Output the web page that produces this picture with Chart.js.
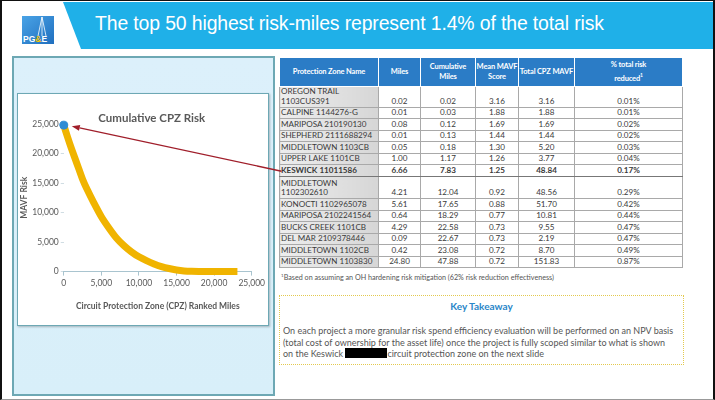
<!DOCTYPE html>
<html>
<head>
<meta charset="utf-8">
<script src="https://cdn.jsdelivr.net/npm/chart.js@4.4.1/dist/chart.umd.min.js"></script>
<style>
  html, body { margin: 0; padding: 0; background: #fff; }
  #slide {
    position: relative; width: 715px; height: 400px; overflow: hidden;
    box-sizing: border-box; background: #fff;
    border-left: 2px solid #111; border-right: 2px solid #111;
    border-top: 1px solid #111; border-bottom: 1px solid #999;
    font-family: Lato, "Open Sans", sans-serif;
  }
  .abs { position: absolute; }
  #banner {
    left: 61px; top: 1px; width: 652px; height: 47px; background: #1fb0e8;
    clip-path: polygon(0 0, 100% 0, 100% 100%, 18px 100%);
  }
  #headline {
    left: 93px; top: 11px; color: #fff; font-family: "Liberation Sans", Arial, sans-serif;
    font-size: 19.4px; white-space: nowrap; letter-spacing: -0.12px;
  }
  #leftPanel {
    left: 10px; top: 55px; width: 259px; height: 336px;
    border: 2px solid #6da8b4; background: linear-gradient(#dcf0fb, #d8eff9);
  }
  #chartBox {
    left: 15px; top: 92px; width: 250px; height: 231px; background: #fff;
    border: 1.5px solid #6da8b4; box-shadow: 1px 1px 2px rgba(0,0,0,0.25);
  }
  #chartBox canvas { display: block; }
  table { border-collapse: collapse; table-layout: fixed; color: #3a3a3a; }
  #riskTable { left: 277px; top: 56px; width: 404px; font-size: 8.1px; }
  #riskTable th {
    background: #2b7cc6; color: #fff; font-weight: bold; border: 1px solid #fff; white-space: nowrap;
    height: 28px; padding: 0; line-height: 10px; font-size: 7.5px; letter-spacing: -0.15px;
  }
  #riskTable td {
    border: 1px solid #a9a9a9; text-align: center; vertical-align: bottom; white-space: nowrap;
    padding: 0 2px; line-height: 9.6px; height: 10.5px; overflow: hidden;
  }
  #riskTable tr.two td { height: 19.5px; }
  #riskTable tr.two.tall td { height: 21.5px; }
  #riskTable td:first-child {
    text-align: left; padding-left: 1px;
    background: linear-gradient(90deg, #ededed, #d6d6d6);
  }
  #riskTable tr.hl td { font-weight: bold; border-top: 1.5px solid #777; border-bottom: 1.5px solid #777; }
  #note { left: 279px; top: 272px; font-size: 7.2px; color: #555; white-space: nowrap; }
  #takeaway {
    left: 277px; top: 294px; width: 403px; height: 68px;
    border: 1.5px dotted #e3c94f; color: #555;
  }
  #takeaway h4 { margin: 4px 0 0 0; text-align: center; font-size: 10px; color: #2a86c8; font-weight: bold; }
  #takeaway p { margin: 13px 0 0 3px; font-size: 9px; line-height: 11.6px; white-space: nowrap; }
  .redact { display: inline-block; width: 42px; height: 10px; background: #000; vertical-align: -1px; }
  #arrow { left: 0; top: 0; width: 715px; height: 400px; pointer-events: none; }
</style>
</head>
<body>
<div id="slide">
  <div id="banner" class="abs"></div>
  <div id="headline" class="abs">The top 50 highest risk-miles represent 1.4% of the total risk</div>
  <svg class="abs" style="left:19px;top:14px" width="34" height="30" viewBox="0 0 34 30">
    <defs><linearGradient id="lg" x1="0" y1="0" x2="1" y2="1"><stop offset="0" stop-color="#4aa3e6"/><stop offset="1" stop-color="#1f6fbf"/></linearGradient></defs>
    <rect x="1" y="1" width="32" height="28" fill="url(#lg)"/>
    <path d="M21 2 L17 21 M21 2 L25 21 M21 2 L21 21" stroke="#fff" stroke-width="0.8" fill="none"/>
    <text x="2" y="27" font-family="Liberation Sans, Arial" font-weight="bold" font-size="8.5" fill="#fff">PG<tspan fill="#f5c400">&amp;</tspan>E</text>
  </svg>

  <div id="leftPanel" class="abs"></div>
  <div id="chartBox" class="abs"><canvas id="cpzChart" width="250" height="231"></canvas></div>

  <table id="riskTable" class="abs">
    <colgroup><col style="width:99px"><col style="width:42px"><col style="width:55px"><col style="width:43px"><col style="width:56px"><col></colgroup>
    <thead>
      <tr><th>Protection Zone Name</th><th>Miles</th><th>Cumulative<br>Miles</th><th>Mean MAVF<br>Score</th><th>Total CPZ MAVF</th><th>% total risk<br>reduced<sup style="font-size:5px">1</sup></th></tr>
    </thead>
    <tbody id="tbody"></tbody>
  </table>
  <div id="note" class="abs"><sup style="font-size:4.5px">1</sup>Based on assuming an OH hardening risk mitigation (62% risk reduction effectiveness)</div>

  <div id="takeaway" class="abs">
    <h4>Key Takeaway</h4>
    <p>On each project a more granular risk spend efficiency evaluation will be performed on an NPV basis<br>(total cost of ownership for the asset life) once the project is fully scoped similar to what is shown<br>on the Keswick <span class="redact"></span>circuit protection zone on the next slide</p>
  </div>

  <svg id="arrow" class="abs"></svg>
</div>

<script>
// Curve: cumulative CPZ risk against ranked miles
const cumMiles = [0, 500, 1000, 1500, 2000, 2500, 3000, 4000, 5000, 6000, 7000, 8000, 9000, 10000,
                  11000, 12000, 13000, 14000, 15000, 16000, 17000, 18000, 19000, 20000, 21000, 22000, 23100];
const mavfRisk = [24800, 22800, 20900, 19150, 17400, 15650, 14200, 11650, 9300, 7400, 5700, 4400, 3350, 2500,
                  1850, 1300, 850, 520, 280, 120, 40, 10, 0, 0, 0, 0, 0];
const axisTicks = [0, 5000, 10000, 15000, 20000, 25000];

// Top 15 protection zones
const zoneNames = ['OREGON TRAIL 1103CUS391', 'CALPINE 1144276-G', 'MARIPOSA 210190130', 'SHEPHERD 2111688294',
  'MIDDLETOWN 1103CB', 'UPPER LAKE 1101CB', 'KESWICK 11011586', 'MIDDLETOWN 1102302610', 'KONOCTI 1102965078',
  'MARIPOSA 2102241564', 'BUCKS CREEK 1101CB', 'DEL MAR 2109378446', 'MIDDLETOWN 1102CB', 'MIDDLETOWN 1103830'];
const zoneMiles = ['0.02', '0.01', '0.08', '0.01', '0.05', '1.00', '6.66', '4.21', '5.61', '0.64', '4.29', '0.09', '0.42', '24.80'];
const zoneCumMiles = ['0.02', '0.03', '0.12', '0.13', '0.18', '1.17', '7.83', '12.04', '17.65', '18.29', '22.58', '22.67', '23.08', '47.88'];
const zoneMeanMavf = ['3.16', '1.88', '1.69', '1.44', '1.30', '1.26', '1.25', '0.92', '0.88', '0.77', '0.73', '0.73', '0.72', '0.72'];
const zoneTotalMavf = ['3.16', '1.88', '1.69', '1.44', '5.20', '3.77', '48.84', '48.56', '51.70', '10.81', '9.55', '2.19', '8.70', '151.83'];
const zoneRiskPct = ['0.01%', '0.01%', '0.02%', '0.02%', '0.03%', '0.04%', '0.17%', '0.29%', '0.42%', '0.44%', '0.47%', '0.47%', '0.49%', '0.87%'];

// build table rows
const tbody = document.getElementById('tbody');
zoneNames.forEach((name, i) => {
    const tr = document.createElement('tr');
    let label = name;
    if (name.startsWith('KESWICK')) { tr.className = 'hl'; tr.id = 'keswickRow'; }
    if (name === 'OREGON TRAIL 1103CUS391') { label = 'OREGON TRAIL<br>1103CUS391'; tr.className = 'two'; }
    if (name === 'MIDDLETOWN 1102302610') { label = 'MIDDLETOWN<br>1102302610'; tr.className = 'two tall'; }
    const cells = [label, zoneMiles[i], zoneCumMiles[i], zoneMeanMavf[i], zoneTotalMavf[i], zoneRiskPct[i]];
    tr.innerHTML = cells.map(c => `<td>${c}</td>`).join('');
    tbody.appendChild(tr);
});

const tickFont = { family: 'Lato, "Open Sans", sans-serif', size: 8.5 };
const labelFont = { family: 'Lato, "Open Sans", sans-serif', size: 8.5, weight: 'bold' };

// chart title sits over the plot, like the Excel original
const titlePlugin = {
    id: 'cpzTitle',
    afterDraw(chart) {
        const { ctx, chartArea } = chart;
        ctx.save();
        ctx.font = 'bold 11.5px Lato, "Open Sans", sans-serif';
        ctx.fillStyle = '#595959';
        ctx.textAlign = 'center';
        ctx.textBaseline = 'middle';
        ctx.fillText('Cumulative CPZ Risk', (chartArea.left + chartArea.right) / 2 - 6, chartArea.top - 6);
        ctx.restore();
    }
};

const chart = new Chart(document.getElementById('cpzChart'), {
    type: 'scatter',
    data: {
        datasets: [
            {
                label: 'Cumulative CPZ Risk',
                data: cumMiles.map((m, i) => ({ x: m, y: mavfRisk[i] })),
                showLine: true,
                borderColor: '#f0b400',
                borderWidth: 7,
                pointRadius: 0,
                tension: 0.3,
                order: 1
            },
            {
                label: 'Top',
                data: [{ x: cumMiles[0], y: mavfRisk[0] }],
                backgroundColor: '#2e8bd4',
                borderColor: '#2e8bd4',
                pointRadius: 4,
                order: 0
            }
        ]
    },
    options: {
        responsive: false,
        animation: false,
        clip: false,
        layout: { padding: { top: 30, right: 0, left: 1, bottom: 12 } },
        plugins: { legend: { display: false }, tooltip: { enabled: false } },
        scales: {
            x: {
                type: 'linear', min: 0, max: 25000,
                afterBuildTicks: axis => { axis.ticks = axisTicks.map(v => ({ value: v })); },
                ticks: { font: tickFont, color: '#595959', padding: 3, maxRotation: 0, minRotation: 0 },
                grid: { drawOnChartArea: false, drawTicks: true, tickLength: 4, color: '#a9c4cf' },
                border: { color: '#a9c4cf' },
                title: { display: true, text: 'Circuit Protection Zone (CPZ) Ranked Miles', font: labelFont, color: '#595959', padding: { top: 9, bottom: 2 } }
            },
            y: {
                type: 'linear', min: 0, max: 25000,
                afterBuildTicks: axis => { axis.ticks = axisTicks.map(v => ({ value: v })); },
                ticks: { font: tickFont, color: '#595959', padding: 2 },
                grid: { drawOnChartArea: false, drawTicks: true, tickLength: 3, color: '#d0dde3' },
                border: { display: false },
                title: { display: true, text: 'MAVF Risk', font: labelFont, color: '#595959', padding: { top: 0, bottom: 1 } }
            }
        }
    },
    plugins: [titlePlugin]
});

// red arrow from the Keswick row to the top point of the curve
const slide = document.getElementById('slide').getBoundingClientRect();
const cv = document.getElementById('cpzChart').getBoundingClientRect();
const pt = chart.getDatasetMeta(1).data[0];
const row = document.getElementById('keswickRow').getBoundingClientRect();
const x1 = row.left - slide.left, y1 = row.top - slide.top + row.height / 2;
const x2 = cv.left - slide.left + pt.x + 6, y2 = cv.top - slide.top + pt.y;
const ang = Math.atan2(y2 - y1, x2 - x1);
const hx = x2 - 8 * Math.cos(ang), hy = y2 - 8 * Math.sin(ang);
const px = 3 * Math.sin(ang), py = -3 * Math.cos(ang);
document.getElementById('arrow').innerHTML =
    `<line x1="${x1}" y1="${y1}" x2="${hx}" y2="${hy}" stroke="#a01e2a" stroke-width="1.3"/>` +
    `<polygon points="${x2},${y2} ${hx + px},${hy + py} ${hx - px},${hy - py}" fill="#a01e2a"/>`;
</script>
</body>
</html>
